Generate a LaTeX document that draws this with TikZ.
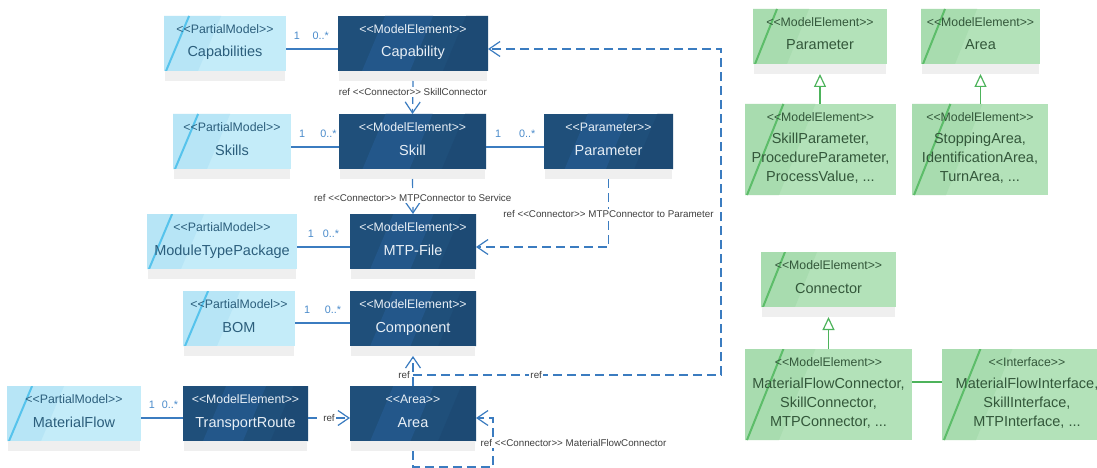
\documentclass[tikz,border=0pt]{standalone}
\usepackage{fontspec}
\setmainfont{Liberation Sans}[Ligatures=TeXOff]
\usetikzlibrary{arrows.meta,calc}

% palette
\definecolor{dkfill}{HTML}{1F4F7A}
\definecolor{dklight}{HTML}{23578A}
\definecolor{dkdeep}{HTML}{1D4A74}
\definecolor{dktext}{HTML}{E8EFF6}
\definecolor{ltfill}{HTML}{C4ECF9}
\definecolor{ltband}{HTML}{B7E5F6}
\definecolor{ltline}{HTML}{56C3EC}
\definecolor{lttext}{HTML}{2B5E7C}
\definecolor{gnfill}{HTML}{B3E2B9}
\definecolor{gnband}{HTML}{A8DCAF}
\definecolor{gnline}{HTML}{5DBD6A}
\definecolor{gntext}{HTML}{33573A}
\definecolor{gnedge}{HTML}{4DB35B}
\definecolor{shadowgray}{HTML}{EFEFEF}
\definecolor{edgeblue}{HTML}{3B7CC0}
\definecolor{multblue}{HTML}{4A8BCB}
\definecolor{labgray}{HTML}{3F3F3F}

\tikzset{
  box/.style={inner sep=0pt, outer sep=0pt, anchor=north west, draw=none},
  dkbox/.style={box, fill=dkfill, path picture={
    \fill[dklight] let \p1=(path picture bounding box.south west), \p2=(path picture bounding box.north east),
        \n1={\x2-\x1}, \n2={0.42*(\y2-\y1)} in
      (\x1+0.16*\n1,\y1) -- (\x1+0.48*\n1,\y1) -- (\x1+0.48*\n1+\n2,\y2) -- (\x1+0.16*\n1+\n2,\y2) -- cycle;
    \fill[dkdeep] let \p1=(path picture bounding box.south west), \p2=(path picture bounding box.north east),
        \n1={\x2-\x1}, \n2={0.42*(\y2-\y1)} in
      (\x1+0.70*\n1,\y1) -- (\x2,\y1) -- (\x2,\y2) -- (\x1+0.70*\n1+\n2,\y2) -- cycle;
  }},
  ltbox/.style={box, fill=ltfill, path picture={
    \fill[ltband] let \p1=(path picture bounding box.south west), \p2=(path picture bounding box.north east),
        \n1={0.42*(\y2-\y1)} in
      (\x1,\y1) -- (\x1+34pt,\y1) -- (\x1+34pt+\n1,\y2) -- (\x1,\y2) -- cycle;
    \draw[ltline, line width=2pt] let \p1=(path picture bounding box.south west), \p2=(path picture bounding box.north east),
        \n1={0.42*(\y2-\y1)} in
      (\x1+2pt,\y1) -- (\x1+2pt+\n1,\y2);
  }},
  gnbox/.style={box, fill=gnfill, path picture={
    \fill[gnband] let \p1=(path picture bounding box.south west), \p2=(path picture bounding box.north east),
        \n1={0.40*(\y2-\y1)} in
      (\x1,\y1) -- (\x1+34pt,\y1) -- (\x1+34pt+\n1,\y2) -- (\x1,\y2) -- cycle;
    \draw[gnline, line width=2pt] let \p1=(path picture bounding box.south west), \p2=(path picture bounding box.north east),
        \n1={0.40*(\y2-\y1)} in
      (\x1+2pt,\y1) -- (\x1+2pt+\n1,\y2);
  }},
  shade/.style={fill=shadowgray, draw=none, inner sep=0pt, outer sep=0pt, anchor=north, minimum height=10pt},
  stereo/.style={font=\fontsize{12.3pt}{14pt}\selectfont, anchor=base, inner sep=0pt},
  title/.style={font=\fontsize{14.5pt}{19pt}\selectfont, anchor=base, inner sep=0pt},
  multiline/.style={font=\fontsize{14.5pt}{19pt}\selectfont, align=center, inner sep=0pt},
  assoc/.style={draw=edgeblue, line width=1.2pt},
  dep/.style={assoc, dash pattern=on 9pt off 5pt, -{Straight Barb[length=11pt,width=15pt]}},
  gen/.style={draw=gnedge, line width=1.2pt, -{Triangle[open, length=13pt, width=12pt, fill=white]}},
  gline/.style={draw=gnedge, line width=1.2pt},
  mult/.style={font=\fontsize{10.8pt}{12pt}\selectfont, text=multblue, inner sep=0pt, yshift=13pt},
  reflab/.style={font=\fontsize{9.8pt}{11pt}\selectfont, text=labgray, fill=white, inner sep=1.5pt},
}

% class box with shadow strip: name, kind (dk/lt/gn), x, y, width, stereotype, title
\newcommand\classbox[7]{%
  \node[#2box, minimum width=#5pt, minimum height=55pt] (#1) at (#3,#4) {};
  \node[shade, minimum width={#5pt-2pt}] (#1-sh) at (#1.south) {};
  \node[stereo, text=#2text] (#1-st) at ([yshift=-17.5pt]#1.north) {#6};
  \node[title, text=#2text] (#1-nm) at ([yshift=-41pt]#1.north) {#7};
}
% tall green box with a list of names: name, x, y, width, stereotype, lines
\newcommand\listbox[6]{%
  \node[gnbox, minimum width=#4pt, minimum height=91pt] (#1) at (#2,#3) {};
  \node[stereo, text=gntext] (#1-st) at ([yshift=-17.5pt]#1.north) {#5};
  \node[multiline, text=gntext] (#1-nm) at ([yshift=-54pt]#1.north) {#6};
}

\begin{document}
\begin{tikzpicture}[x=1pt, y=-1pt]
\useasboundingbox[fill=white] (0,0) rectangle (1097,468);
\clip (0,0) rectangle (1097,468);

% partial models
\classbox{capabilities}{lt}{164}{16}{122}{<<PartialModel>>}{Capabilities}
\classbox{skills}{lt}{173}{114}{118}{<<PartialModel>>}{Skills}
\classbox{mtpp}{lt}{147}{214}{150}{<<PartialModel>>}{ModuleTypePackage}
\classbox{bom}{lt}{183}{291}{112}{<<PartialModel>>}{BOM}
\classbox{matflow}{lt}{7}{386}{134}{<<PartialModel>>}{MaterialFlow}

% model elements
\classbox{capability}{dk}{338}{16}{150}{<<ModelElement>>}{Capability}
\classbox{skill}{dk}{339}{114}{147}{<<ModelElement>>}{Skill}
\classbox{param}{dk}{544}{114}{129}{<<Parameter>>}{Parameter}
\classbox{mtp}{dk}{350}{214}{126}{<<ModelElement>>}{MTP-File}
\classbox{component}{dk}{350}{291}{126}{<<ModelElement>>}{Component}
\classbox{transport}{dk}{183}{386}{125}{<<ModelElement>>}{TransportRoute}
\classbox{area}{dk}{350}{386}{126}{<<Area>>}{Area}

% generalisation hierarchies
\classbox{gparam}{gn}{753}{9}{134}{<<ModelElement>>}{Parameter}
\classbox{garea}{gn}{921}{9}{119}{<<ModelElement>>}{Area}
\classbox{gconn}{gn}{761}{252}{135}{<<ModelElement>>}{Connector}
\listbox{skillparam}{745}{104}{151}{<<ModelElement>>}{SkillParameter,\\ProcedureParameter,\\ProcessValue, ...}
\listbox{stoparea}{912}{104}{136}{<<ModelElement>>}{StoppingArea,\\IdentificationArea,\\TurnArea, ...}
\listbox{mfc}{745}{349}{167}{<<ModelElement>>}{MaterialFlowConnector,\\SkillConnector,\\MTPConnector, ...}
\listbox{iface}{942}{349}{170}{<<Interface>>}{MaterialFlowInterface,\\SkillInterface,\\MTPInterface, ...}

% associations
\draw[assoc] ([yshift=-5.5pt]capabilities.east) -- node[mult, pos=0.21]{1} node[mult, pos=0.67]{0..*} ([yshift=-5.5pt]capability.west);
\draw[assoc] ([yshift=-5.5pt]skills.east) -- node[mult, pos=0.23]{1} node[mult, pos=0.78]{0..*} ([yshift=-5.5pt]skill.west);
\draw[assoc] ([yshift=-5.5pt]skill.east) -- node[mult, pos=0.21]{1} node[mult, pos=0.71]{0..*} ([yshift=-5.5pt]param.west);
\draw[assoc] ([yshift=-5.5pt]mtpp.east) -- node[mult, pos=0.26]{1} node[mult, pos=0.64]{0..*} ([yshift=-5.5pt]mtp.west);
\draw[assoc] ([yshift=-4.5pt]bom.east) -- node[mult, pos=0.22]{1} node[mult, pos=0.69]{0..*} ([yshift=-4.5pt]component.west);
\draw[assoc] ([yshift=-4.5pt]matflow.east) -- node[mult, pos=0.26]{1} node[mult, pos=0.69]{0..*} ([yshift=-4.5pt]transport.west);

% references
\draw[dep] (capability-sh.south) -- node[reflab, pos=0.33]{ref <<Connector>> SkillConnector} (skill.north);
\draw[dep] (skill-sh.south) -- node[reflab, pos=0.54]{ref <<Connector>> MTPConnector to Service} (mtp.north);
\draw[dep] (param-sh.south) |- node[reflab, pos=0.26]{ref <<Connector>> MTPConnector to Parameter} ([yshift=-5.5pt]mtp.east);
\draw[dep] (area.north) -- node[reflab, fill=none, pos=0.37, left=1pt]{ref} (component-sh.south);
\coordinate (branch) at (413,375);
\coordinate (turn) at (721,375);
\draw[dep] (branch) -- node[reflab, pos=0.4]{ref} (turn) |- ([yshift=-5.5pt]capability.east);
\draw[dep] ([yshift=-4.5pt]transport.east) -- node[reflab]{ref} ([yshift=-4.5pt]area.west);
\coordinate (loop) at (493,467);
\draw[dep] (area-sh.south) |- (loop) |- ([yshift=-4.5pt]area.east);
\node[reflab, anchor=west] (loop-label) at (479,443) {ref <<Connector>> MaterialFlowConnector};

% generalisations
\draw[gen] (gparam-sh.south |- skillparam.north) -- (gparam-sh.south);
\draw[gen] (garea-sh.south |- stoparea.north) -- (garea-sh.south);
\draw[gen] (gconn-sh.south |- mfc.north) -- (gconn-sh.south);
\draw[gline] ([yshift=12.5pt]mfc.east) -- ([yshift=12.5pt]iface.west);
\end{tikzpicture}
\end{document}
